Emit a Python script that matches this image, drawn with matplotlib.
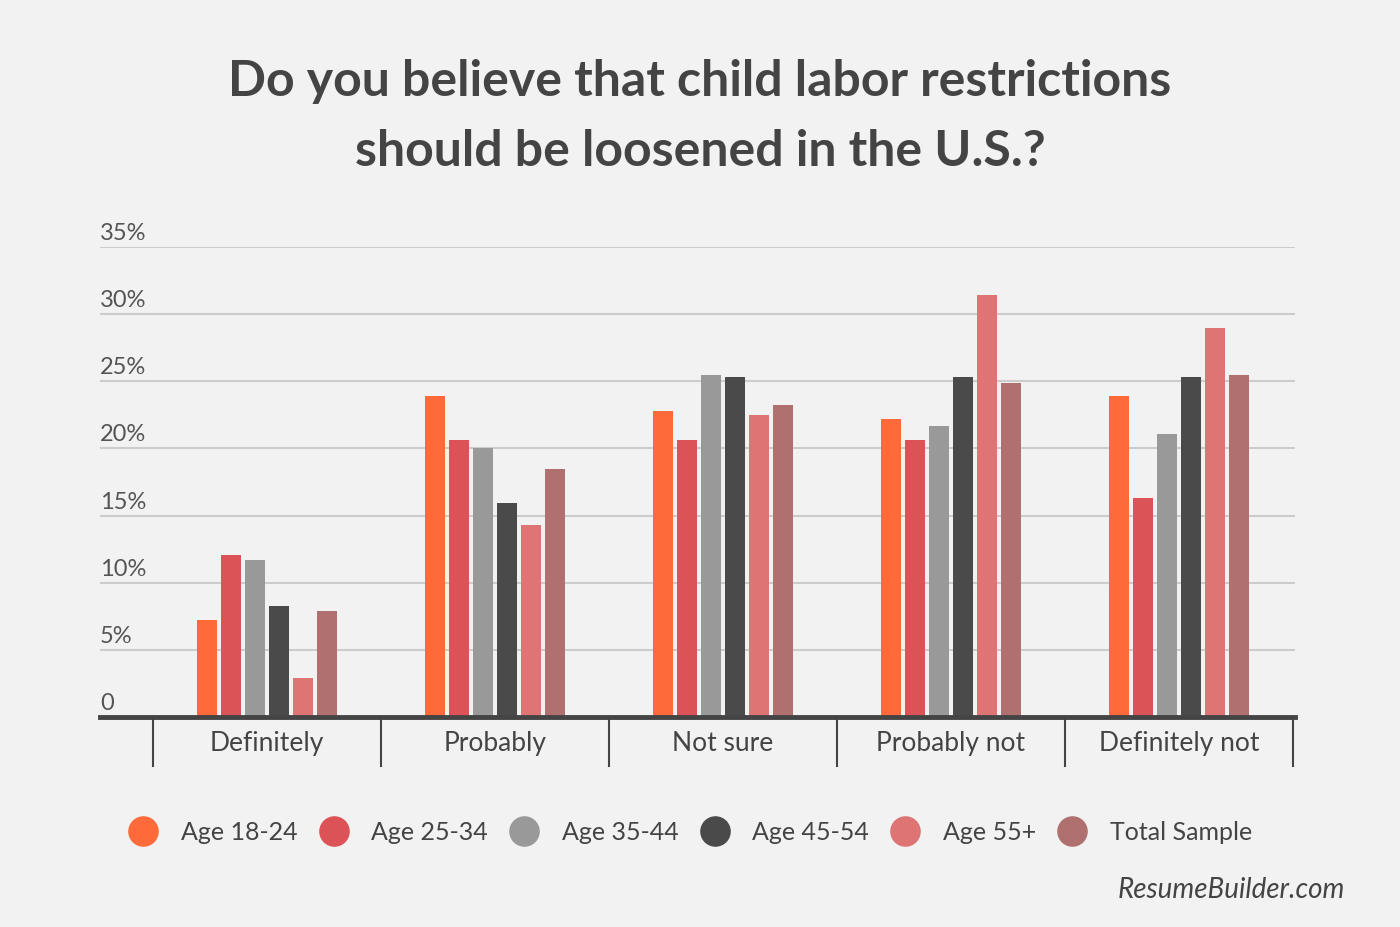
import matplotlib.pyplot as plt
import matplotlib.transforms as mtransforms
from matplotlib.lines import Line2D
import numpy as np

plt.rcParams['font.family'] = ['Lato', 'DejaVu Sans']

categories = ['Definitely', 'Probably', 'Not sure', 'Probably not', 'Definitely not']
groups = ['Age 18-24', 'Age 25-34', 'Age 35-44', 'Age 45-54', 'Age 55+', 'Total Sample']
values = {
    'Age 18-24':    [7.2, 23.9, 22.8, 22.2, 23.9],
    'Age 25-34':    [12.1, 20.6, 20.6, 20.6, 16.3],
    'Age 35-44':    [11.7, 20.0, 25.5, 21.7, 21.1],
    'Age 45-54':    [8.3, 15.9, 25.3, 25.3, 25.3],
    'Age 55+':      [2.9, 14.3, 22.5, 31.4, 29.0],
    'Total Sample': [7.9, 18.5, 23.2, 24.9, 25.5],
}
colors = ['#fe6a39', '#dc5357', '#999999', '#4a4a4a', '#de7474', '#b07070']
yticks = [0, 5, 10, 15, 20, 25, 30, 35]
ytick_labels = ['0', '5%', '10%', '15%', '20%', '25%', '30%', '35%']

bg = '#f2f2f2'
txt = '#444444'

fig = plt.figure(figsize=(14, 9.28), dpi=100, facecolor=bg)
ax = fig.add_axes([100/1400, 1-718/928, 1195/1400, 470/928], facecolor=bg)

x = np.arange(len(categories))
bw = 20/228
step = 24/228
for i, g in enumerate(groups):
    ax.bar(x + (i - 2.5)*step, values[g], width=bw, color=colors[i], zorder=3)

ax.set_xlim(-0.732, 4.509)
ax.set_ylim(0, 35)

for yv in yticks[1:]:
    ax.axhline(yv, color='#cccccc', lw=1.5, zorder=1)

# y labels sit on top of the grid lines, left aligned
trans = mtransforms.blended_transform_factory(ax.transAxes, ax.transData)
for yv, lab in zip(yticks, ytick_labels):
    ax.text(0, yv + 0.3, lab, transform=trans, ha='left', va='bottom',
            fontsize=17, color='#555555')

for side in ['left', 'right', 'top']:
    ax.spines[side].set_visible(False)
ax.spines['bottom'].set_color(txt)
ax.spines['bottom'].set_linewidth(3.5)
ax.spines['bottom'].set_zorder(4)
ax.set_yticks([])
ax.set_xticks([])

# category separators below the axis
trans2 = mtransforms.blended_transform_factory(ax.transData, ax.transAxes)
for b in np.arange(-0.5, 5, 1.0):
    ax.plot([b, b], [0, -49/470], color=txt, lw=1.5, transform=trans2, clip_on=False)
for xi, c in zip(x, categories):
    ax.text(xi, -26/470, c, transform=trans2, ha='center', va='center',
            fontsize=19, color=txt)

fig.text(0.5, 1-82/928, 'Do you believe that child labor restrictions',
         ha='center', va='center', fontsize=36, fontweight='bold', color=txt)
fig.text(0.5, 1-152/928, 'should be loosened in the U.S.?',
         ha='center', va='center', fontsize=36, fontweight='bold', color=txt)

handles = [Line2D([], [], marker='o', linestyle='none', markersize=21,
                  markerfacecolor=c, markeredgecolor=c) for c in colors]
fig.legend(handles, groups, loc='center', bbox_to_anchor=(0.493, 1-833/928),
           ncol=6, frameon=False, fontsize=18, labelcolor=txt,
           handlelength=1.2, handletextpad=0.9, columnspacing=0.85)

fig.text(1345/1400, 1-890/928, 'ResumeBuilder.com', ha='right', va='center',
         fontsize=20, style='italic', color=txt)

fig.savefig('out.png', dpi=100, facecolor=bg)
